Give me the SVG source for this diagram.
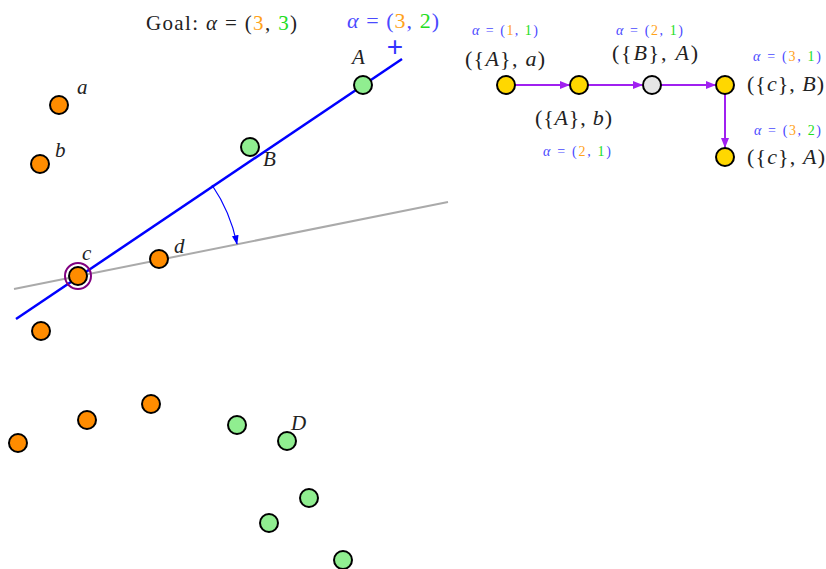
<svg xmlns="http://www.w3.org/2000/svg" width="826" height="569" viewBox="0 0 826 569">
<defs>
<style>
.pt{stroke:#000;stroke-width:2}
.or{fill:#ff8c00}
.gr{fill:#90ee90}
.ye{fill:#ffd700}
.lg{fill:#e6e6e6}
.tx{font-family:"Liberation Serif","DejaVu Serif",serif;fill:#222}
.it{font-style:italic}
.bl{fill:#4a4aff}
.o{fill:#ffa21a}
.g{fill:#22dd22}
.edge{stroke:#a020f0;stroke-width:2;fill:none;marker-end:url(#pa)}
</style>
<marker id="pa" viewBox="0 0 10 10" refX="9" refY="5" markerWidth="5" markerHeight="5" orient="auto" markerUnits="strokeWidth">
<path d="M0,1 L10,5 L0,9 Z" fill="#a020f0"/>
</marker>
<marker id="ba" viewBox="0 0 10 10" refX="9" refY="5" markerWidth="8" markerHeight="8" orient="auto" markerUnits="strokeWidth">
<path d="M0,1.5 L10,5 L0,8.5 Z" fill="#0000ff"/>
</marker>
</defs>
<rect width="826" height="569" fill="#fff"/>

<g id="title">
<text class="tx" x="146" y="30" font-size="21" textLength="151" lengthAdjust="spacing">Goal: <tspan class="it">α</tspan> = (<tspan class="o">3</tspan>, <tspan class="g">3</tspan>)</text>
<text class="tx bl" x="347" y="28" font-size="22" textLength="92" lengthAdjust="spacing"><tspan class="it">α</tspan> = (<tspan class="o">3</tspan>, <tspan class="g">2</tspan>)</text>
<text x="395" y="56" font-size="28" font-family="Liberation Sans, sans-serif" fill="#3333ff" text-anchor="middle">+</text>
</g>

<g id="lines">
<line x1="14" y1="289" x2="448" y2="202" stroke="#aaaaaa" stroke-width="2"/>
<line x1="16" y1="319" x2="402" y2="59" stroke="#0000ff" stroke-width="2.5"/>
<path d="M212,185 A163,163 0 0 1 237,244" fill="none" stroke="#0000ff" stroke-width="1.2" marker-end="url(#ba)"/>
</g>

<g id="points">
<g id="pa_"><circle class="pt or" cx="59" cy="105" r="9"/><text class="tx it" x="77" y="94" font-size="21">a</text></g>
<g id="pb"><circle class="pt or" cx="40" cy="164" r="9"/><text class="tx it" x="55" y="157" font-size="21">b</text></g>
<g id="pc"><circle cx="78" cy="276" r="13" fill="none" stroke="#800080" stroke-width="2"/><circle class="pt or" cx="78" cy="276" r="9"/><text class="tx it" x="82" y="260" font-size="21">c</text></g>
<g id="pd"><circle class="pt or" cx="159" cy="259" r="9"/><text class="tx it" x="174" y="253" font-size="21">d</text></g>
<g id="po1"><circle class="pt or" cx="41" cy="331" r="9"/></g>
<g id="po2"><circle class="pt or" cx="18" cy="443" r="9"/></g>
<g id="po3"><circle class="pt or" cx="87" cy="420" r="9"/></g>
<g id="po4"><circle class="pt or" cx="151" cy="404" r="9"/></g>
<g id="pA"><circle class="pt gr" cx="363" cy="85" r="9"/><text class="tx it" x="352" y="64" font-size="21">A</text></g>
<g id="pB"><circle class="pt gr" cx="250" cy="147" r="9"/><text class="tx it" x="263" y="166" font-size="21">B</text></g>
<g id="pg1"><circle class="pt gr" cx="237" cy="425" r="9"/></g>
<g id="pD"><circle class="pt gr" cx="287" cy="441" r="9"/><text class="tx it" x="291" y="430" font-size="21">D</text></g>
<g id="pg2"><circle class="pt gr" cx="309" cy="498" r="9"/></g>
<g id="pg3"><circle class="pt gr" cx="269" cy="523" r="9"/></g>
<g id="pg4"><circle class="pt gr" cx="343" cy="560" r="9"/></g>
</g>

<g id="connectors">
<line class="edge" x1="515" y1="85" x2="569" y2="85"/>
<line class="edge" x1="588" y1="85" x2="642" y2="85"/>
<line class="edge" x1="661" y1="85" x2="715" y2="85"/>
<line class="edge" x1="725" y1="94" x2="725" y2="147"/>
</g>

<g id="n1"><circle class="pt ye" cx="506" cy="85" r="9"/>
<text class="tx bl" x="472" y="35" font-size="14" textLength="66" lengthAdjust="spacing"><tspan class="it">α</tspan> = (<tspan class="o">1</tspan>, <tspan class="g">1</tspan>)</text>
<text class="tx" x="465" y="66" font-size="22" textLength="80" lengthAdjust="spacing">({<tspan class="it">A</tspan>}, <tspan class="it">a</tspan>)</text></g>
<g id="n2"><circle class="pt ye" cx="579" cy="85" r="9"/>
<text class="tx" x="535" y="125" font-size="22" textLength="77" lengthAdjust="spacing">({<tspan class="it">A</tspan>}, <tspan class="it">b</tspan>)</text>
<text class="tx bl" x="543" y="156" font-size="14" textLength="68" lengthAdjust="spacing"><tspan class="it">α</tspan> = (<tspan class="o">2</tspan>, <tspan class="g">1</tspan>)</text></g>
<g id="n3"><circle class="pt lg" cx="652" cy="85" r="9"/>
<text class="tx bl" x="616" y="35" font-size="14" textLength="67" lengthAdjust="spacing"><tspan class="it">α</tspan> = (<tspan class="o">2</tspan>, <tspan class="g">1</tspan>)</text>
<text class="tx" x="612" y="60" font-size="22" textLength="86" lengthAdjust="spacing">({<tspan class="it">B</tspan>}, <tspan class="it">A</tspan>)</text></g>
<g id="n4"><circle class="pt ye" cx="725" cy="85" r="9"/>
<text class="tx bl" x="753" y="61" font-size="14" textLength="68" lengthAdjust="spacing"><tspan class="it">α</tspan> = (<tspan class="o">3</tspan>, <tspan class="g">1</tspan>)</text>
<text class="tx" x="747" y="91" font-size="22" textLength="77" lengthAdjust="spacing">({<tspan class="it">c</tspan>}, <tspan class="it">B</tspan>)</text></g>
<g id="n5"><circle class="pt ye" cx="725" cy="157" r="9"/>
<text class="tx bl" x="754" y="135" font-size="14" textLength="67" lengthAdjust="spacing"><tspan class="it">α</tspan> = (<tspan class="o">3</tspan>, <tspan class="g">2</tspan>)</text>
<text class="tx" x="747" y="164" font-size="22" textLength="78" lengthAdjust="spacing">({<tspan class="it">c</tspan>}, <tspan class="it">A</tspan>)</text></g>
</svg>
